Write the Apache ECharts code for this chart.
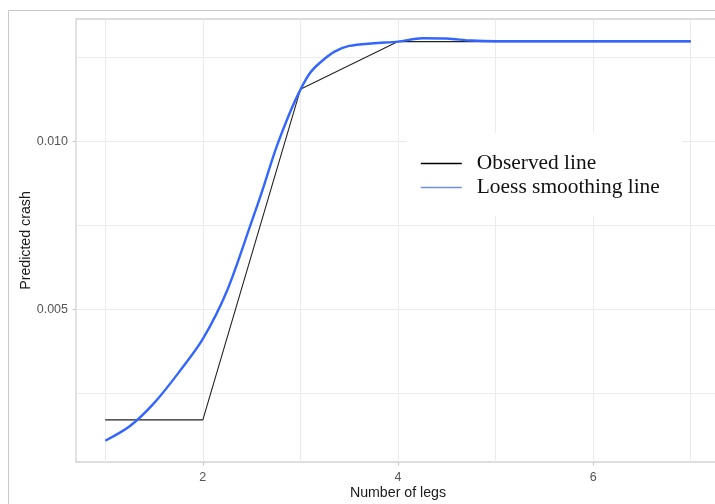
<!DOCTYPE html>
<html>
<head>
<meta charset="utf-8">
<script src="https://cdn.jsdelivr.net/npm/echarts@6/dist/echarts.min.js"></script>
<style>
  html, body { margin: 0; padding: 0; background: #fff; }
  #chart { width: 715px; height: 504px; }
</style>
</head>
<body>
<div id="chart"></div>
<script>
// Number of legs and the observed predicted crash value at each
const legs = [1, 2, 3, 4, 5, 6, 7];
const observed = [0.00172, 0.00172, 0.01156, 0.01298, 0.01298, 0.01298, 0.01298];

// Loess smoothing curve, sampled along the x range
const loessX = [1.0, 1.25, 1.5, 1.75, 2.0, 2.25, 2.5, 2.6, 2.75, 2.9, 3.0, 3.1, 3.2, 3.35, 3.5, 3.75, 4.0, 4.25, 4.5, 4.75, 5.0, 5.5, 6.0, 6.5, 7.0];
const loessY = [0.00110, 0.00153, 0.00222, 0.00312, 0.00413, 0.00558, 0.00762, 0.00846, 0.00980, 0.01092, 0.01155, 0.01205, 0.01235, 0.01268, 0.01285, 0.01293, 0.01298, 0.01308, 0.01307, 0.01301, 0.01299, 0.01299, 0.01299, 0.01299, 0.01299];

// Tick labels and grid positions
const xLabels = [2, 4, 6];
const xGridLines = [1, 2, 3, 4, 5, 6, 7];
const yLabels = [0.005, 0.010];
const yGridLines = [0.0025, 0.005, 0.0075, 0.010, 0.0125];

const xRange = [0.7, 7.3];
const yRange = [0.000467, 0.013652];

const sans = '"Liberation Sans", Arial, sans-serif';
const serif = '"Liberation Serif", "Times New Roman", serif';

const chart = echarts.init(document.getElementById('chart'), null, { renderer: 'canvas' });

chart.setOption({
  animation: false,
  backgroundColor: '#fff',
  graphic: [{
    type: 'rect',
    silent: true,
    z: -10,
    shape: { x: 8.5, y: 10.5, width: 760, height: 560 },
    style: { fill: 'none', stroke: '#c9c9c9', lineWidth: 1 }
  }],
  grid: {
    left: 76, top: 19, width: 644, bottom: 42,
    outerBoundsMode: 'none',
    show: true,
    backgroundColor: 'transparent',
    borderColor: '#d2d2d2',
    borderWidth: 1.3
  },
  legend: {
    orient: 'vertical',
    left: 407, top: 133,
    padding: [20, 22, 18, 13],
    backgroundColor: '#fff',
    itemWidth: 41,
    itemHeight: 21,
    itemGap: 3,
    textStyle: { fontFamily: serif, fontSize: 21.4, color: '#111', lineHeight: 21, padding: [0, 0, 0, 10] },
    data: [
      { name: 'Observed line', itemStyle: { opacity: 0 }, lineStyle: { color: '#000', width: 1.4 } },
      { name: 'Loess smoothing line', itemStyle: { opacity: 0 }, lineStyle: { color: '#6f8fdc', width: 1.6 } }
    ]
  },
  xAxis: [{
    type: 'value', min: xRange[0], max: xRange[1],
    axisLine: { show: false },
    axisTick: { show: false, customValues: xGridLines },
    axisLabel: { show: false },
    splitLine: { show: true, lineStyle: { color: '#ebebeb', width: 1 } }
  }, {
    type: 'value', min: xRange[0], max: xRange[1], position: 'bottom',
    axisLine: { show: false },
    axisTick: { show: true, customValues: xLabels, length: 3.5, lineStyle: { color: '#c4c4c4', width: 1 } },
    axisLabel: { customValues: xLabels, color: '#555', fontFamily: sans, fontSize: 12.5, margin: 9 },
    splitLine: { show: false },
    name: 'Number of legs', nameLocation: 'middle', nameGap: 24, nameMoveOverlap: false,
    nameTextStyle: { color: '#1a1a1a', fontFamily: sans, fontSize: 14.2 }
  }],
  yAxis: [{
    type: 'value', min: yRange[0], max: yRange[1],
    axisLine: { show: false },
    axisTick: { show: false, customValues: yGridLines },
    axisLabel: { show: false },
    splitLine: { show: true, lineStyle: { color: '#ebebeb', width: 1 } }
  }, {
    type: 'value', min: yRange[0], max: yRange[1], position: 'left',
    axisLine: { show: false },
    axisTick: { show: true, customValues: yLabels, length: 3.5, lineStyle: { color: '#c4c4c4', width: 1 } },
    axisLabel: { customValues: yLabels, color: '#555', fontFamily: sans, fontSize: 12.5, margin: 8,
      formatter: v => v.toFixed(3) },
    splitLine: { show: false },
    name: 'Predicted crash', nameLocation: 'middle', nameGap: 43, nameRotate: 90, nameMoveOverlap: false,
    nameTextStyle: { color: '#1a1a1a', fontFamily: sans, fontSize: 14.2 }
  }],
  series: [{
    name: 'Observed line',
    type: 'line',
    xAxisIndex: 0, yAxisIndex: 0,
    symbol: 'none',
    color: '#000',
    lineStyle: { color: '#222', width: 1.1 },
    data: legs.map((x, i) => [x, observed[i]])
  }, {
    name: 'Loess smoothing line',
    type: 'line',
    xAxisIndex: 0, yAxisIndex: 0,
    symbol: 'none',
    smooth: 0.3,
    color: '#3366FF',
    lineStyle: { color: '#3366FF', width: 2.4 },
    data: loessX.map((x, i) => [x, loessY[i]])
  }]
});
</script>
</body>
</html>
